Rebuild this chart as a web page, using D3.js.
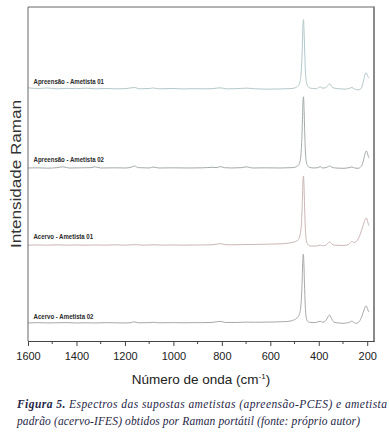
<!DOCTYPE html>
<html>
<head>
<meta charset="utf-8">
<script src="https://cdn.jsdelivr.net/npm/d3@7"></script>
<style>
  body { margin: 0; background: #fff; }
  svg { display: block; }
</style>
</head>
<body>
<div id="chart"></div>
<script>
// series names
const names = [
  "Apreensão - Ametista 01",
  "Apreensão - Ametista 02",
  "Acervo - Ametista 01",
  "Acervo - Ametista 02"
];

// vertical offsets of each spectrum (arbitrary units)
const offsets = [75.5, 51.8, 28.7, 5.4];

// spectra: [wavenumber, relative intensity]
const apreensao01 = [
  [1600, 0.3], [1560, 0.1], [1520, 0.25], [1480, 0.0], [1440, 0.15], [1400, 0.05],
  [1360, 0.2], [1320, 0.0], [1280, 0.1], [1240, 0.0], [1200, 0.05], [1160, 0.4],
  [1140, 0.0], [1100, 0.1], [1082, 0.25], [1060, 0.0], [1000, 0.1], [960, -0.05],
  [920, 0.05], [880, 0.0], [840, 0.05], [807, 0.3], [780, 0.0], [740, 0.05],
  [697, 0.2], [660, 0.0], [620, -0.1], [580, -0.05], [540, 0.0], [510, 0.1],
  [495, 0.4], [485, 0.9], [478, 2.0], [472, 5.5], [468, 12], [465, 19.5],
  [463, 20.7], [461, 18], [458, 11], [455, 5], [451, 2], [446, 0.9], [438, 0.3],
  [425, 0.1], [410, 0.0], [400, 0.4], [394, 0.6], [386, 0.2], [372, 0.3],
  [362, 1.0], [355, 1.5], [348, 0.8], [336, 0.2], [310, 0.0], [290, -0.1],
  [272, 0.2], [263, 0.4], [254, 0.0], [240, -0.3], [228, -0.1], [220, 1.0],
  [214, 2.8], [208, 4.5], [204, 4.8], [199, 4.0], [195, 3.4], [192, 3.2]
];
const apreensao02 = [
  [1600, 0.0], [1560, 0.05], [1520, -0.05], [1480, 0.1], [1455, 0.35], [1430, 0.0],
  [1380, 0.05], [1340, 0.1], [1323, 0.35], [1300, 0.0], [1240, 0.05], [1200, 0.0],
  [1175, 0.2], [1160, 0.6], [1145, 0.1], [1100, 0.0], [1082, 0.3], [1060, 0.0],
  [1000, 0.05], [940, 0.0], [880, 0.05], [836, 0.2], [820, 0.1], [807, 0.45],
  [790, 0.1], [760, 0.0], [720, 0.1], [697, 0.35], [675, 0.0], [620, 0.05],
  [560, 0.0], [510, 0.1], [495, 0.3], [485, 0.8], [478, 1.8], [472, 5.5],
  [468, 12.5], [465, 20], [463, 21.3], [461, 18.5], [458, 11], [455, 4.8],
  [451, 1.8], [446, 0.7], [438, 0.2], [420, 0.0], [404, 0.1], [394, 0.4],
  [384, 0.0], [370, 0.1], [360, 0.5], [355, 0.6], [348, 0.3], [330, 0.0],
  [300, -0.1], [275, 0.1], [263, 0.3], [252, 0.0], [238, -0.1], [226, 0.4],
  [218, 1.6], [212, 3.4], [206, 4.9], [203, 5.1], [199, 4.4], [195, 3.4], [192, 3.0]
];
const acervo01 = [
  [1600, 0.0], [1560, 0.05], [1520, 0.0], [1480, 0.1], [1440, 0.0], [1400, 0.05],
  [1360, 0.0], [1320, 0.05], [1280, 0.0], [1240, 0.1], [1200, 0.0], [1160, 0.15],
  [1120, 0.0], [1080, 0.1], [1040, 0.0], [1000, 0.05], [960, 0.0], [920, 0.05],
  [880, 0.05], [840, 0.1], [807, 0.45], [785, 0.15], [760, 0.1], [720, 0.15],
  [680, 0.2], [640, 0.25], [600, 0.3], [560, 0.4], [530, 0.55], [510, 0.8],
  [495, 1.1], [485, 1.6], [478, 2.8], [472, 6], [468, 12.5], [465, 19.5],
  [463, 20.7], [461, 18], [458, 10.5], [455, 4.5], [451, 1.4], [446, 0.3],
  [438, -0.2], [420, -0.3], [404, -0.2], [394, 0.0], [384, -0.2], [370, 0.0],
  [362, 0.6], [355, 1.0], [348, 0.5], [335, 0.0], [300, -0.1], [280, 0.1],
  [268, 0.8], [263, 1.2], [257, 0.8], [248, 0.9], [238, 1.8], [228, 3.4],
  [220, 5.2], [212, 7.0], [206, 8.0], [203, 8.1], [199, 7.3], [195, 6.2], [192, 5.8]
];
const acervo02 = [
  [1600, 0.0], [1560, 0.1], [1520, 0.0], [1480, 0.05], [1440, 0.1], [1400, 0.0],
  [1360, 0.05], [1320, 0.0], [1280, 0.1], [1240, 0.05], [1200, 0.0], [1175, 0.1],
  [1162, 0.35], [1145, 0.05], [1100, 0.1], [1082, 0.2], [1060, 0.05], [1000, 0.1],
  [960, 0.05], [920, 0.1], [880, 0.1], [840, 0.15], [807, 0.5], [785, 0.15],
  [740, 0.15], [697, 0.25], [660, 0.2], [620, 0.25], [580, 0.3], [540, 0.4],
  [515, 0.6], [500, 1.0], [490, 1.5], [480, 2.6], [474, 5], [469, 11.5],
  [466, 18.5], [464, 20.6], [462, 19], [459, 12], [456, 5.5], [452, 1.8],
  [447, 0.6], [438, 0.2], [420, 0.1], [404, 0.3], [394, 0.5], [384, 0.2],
  [372, 0.6], [362, 1.8], [355, 2.4], [348, 1.4], [338, 0.3], [320, 0.0],
  [300, -0.1], [278, 0.1], [267, 0.4], [263, 0.6], [258, 0.3], [248, -0.1],
  [238, 0.1], [228, 1.0], [220, 2.4], [213, 3.9], [207, 5.0], [204, 5.1],
  [199, 4.3], [195, 3.5], [192, 3.3]
];
const spectra = [apreensao01, apreensao02, acervo01, acervo02];
const colors = ["#b3c8ca", "#a3aba7", "#ccb6b6", "#a8a8a8"];

// x axis ticks
const majorTicks = [1600, 1400, 1200, 1000, 800, 600, 400, 200];
const minorTicks = [1500, 1300, 1100, 900, 700, 500, 300];

const W = 389, H = 435;
const svg = d3.select("#chart").append("svg")
  .attr("width", W)
  .attr("height", H)
  .style("font-family", "'Liberation Sans', Arial, sans-serif");

const x = d3.scaleLinear().domain([1600, 172]).range([28, 374]);
const y = d3.scaleLinear().domain([0, 100]).range([341, 7]);

// spectra lines
spectra.forEach(function (s, i) {
  const line = d3.line()
    .x(d => x(d[0]))
    .y(d => y(d[1] + offsets[i]))
    .curve(d3.curveMonotoneX);
  svg.append("path")
    .datum(s)
    .attr("fill", "none")
    .attr("stroke", colors[i])
    .attr("stroke-width", 1)
    .attr("d", line);
});

// labels of series
const labelY = [84.3, 162, 239, 318.7];
const labelW = [70.5, 70.5, 59.5, 60];
names.forEach(function (n, i) {
  svg.append("text")
    .attr("x", 33.5)
    .attr("y", labelY[i])
    .attr("font-size", 8)
    .attr("font-weight", "bold")
    .attr("fill", "#2a2a2a")
    .attr("textLength", labelW[i])
    .attr("lengthAdjust", "spacingAndGlyphs")
    .text(n);
});

// frame
svg.append("path")
  .attr("d", `M${x(1600)},${y(0)}V${y(100)}H${x(172)}`)
  .attr("fill", "none")
  .attr("stroke", "#666")
  .attr("stroke-width", 1);
svg.append("line")
  .attr("x1", x(172)).attr("x2", x(172))
  .attr("y1", y(100) - 0.5).attr("y2", y(0) + 1)
  .attr("stroke", "#8a8a8a")
  .attr("stroke-width", 2);

// bottom axis
const axis = svg.append("g")
  .attr("transform", "translate(0," + y(0) + ")")
  .call(d3.axisBottom(x).tickValues(majorTicks).tickSize(5).tickSizeOuter(0).tickPadding(6).tickFormat(d3.format("d")));
axis.select(".domain").attr("stroke", "#444");
axis.selectAll(".tick line").attr("stroke", "#444");
axis.selectAll("text").attr("font-size", 11).attr("fill", "#222");
axis.append("g").selectAll("line")
  .data(minorTicks)
  .enter()
  .append("line")
  .attr("x1", d => x(d)).attr("x2", d => x(d))
  .attr("y1", 0).attr("y2", 3)
  .attr("stroke", "#444");

// axis titles
const xt = svg.append("text")
  .attr("x", 201)
  .attr("y", 384)
  .attr("text-anchor", "middle")
  .attr("font-size", 13.5)
  .attr("fill", "#222");
xt.append("tspan").text("Número de onda (cm");
xt.append("tspan").attr("font-size", 8).attr("dy", -5).text("-1");
xt.append("tspan").attr("dy", 5).text(")");

svg.append("text")
  .attr("transform", "translate(21,174) rotate(-90)")
  .attr("text-anchor", "middle")
  .attr("font-size", 15)
  .attr("fill", "#333")
  .attr("textLength", 148)
  .attr("lengthAdjust", "spacingAndGlyphs")
  .text("Intensidade Raman");

// caption
const cap = svg.append("g")
  .style("font-family", "'Liberation Serif', 'Times New Roman', serif")
  .attr("font-style", "italic")
  .attr("fill", "#1f2747");
const c1 = cap.append("text")
  .attr("x", 17).attr("y", 408)
  .attr("font-size", 11.5)
  .attr("textLength", 370)
  .attr("lengthAdjust", "spacing");
c1.append("tspan").attr("font-weight", "bold").text("Figura 5.");
c1.append("tspan").text(" Espectros das supostas ametistas (apreensão-PCES) e ametista");
cap.append("text")
  .attr("x", 17).attr("y", 425)
  .attr("font-size", 11.5)
  .attr("textLength", 343)
  .attr("lengthAdjust", "spacing")
  .text("padrão (acervo-IFES) obtidos por Raman portátil (fonte: próprio autor)");
</script>
</body>
</html>
